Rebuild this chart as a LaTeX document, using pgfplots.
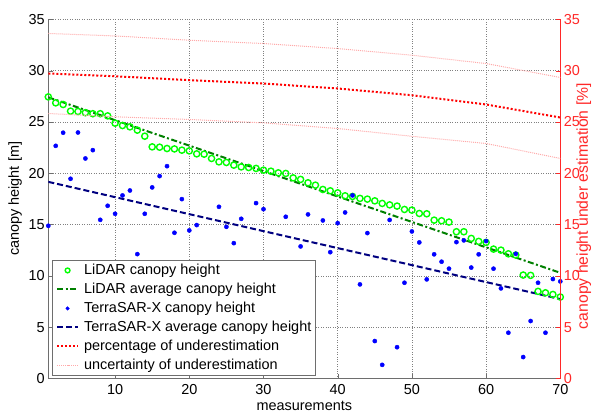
\documentclass[border=0pt]{standalone}
\usepackage{fontspec}
\setmainfont{Liberation Sans}
\usepackage{pgfplots}
\pgfplotsset{compat=1.18}

\definecolor{lidar}{RGB}{0,255,0}
\definecolor{lidaravg}{RGB}{0,128,0}
\definecolor{sar}{RGB}{0,0,255}
\definecolor{saravg}{RGB}{0,0,128}
\definecolor{uncert}{RGB}{255,170,170}
\definecolor{axred}{RGB}{255,40,40}
\definecolor{axgray}{RGB}{110,110,110}

\newcommand{\fnt}{\fontsize{14.5}{16}\selectfont}

\pgfplotsset{
  base/.style={
    scale only axis, width=512bp, height=359.2bp,
    xmin=1, xmax=70, ymin=0, ymax=35,
    ytick={0,5,...,35},
    tick align=inside,
    /pgf/number format/assume math mode=true,
    tick label style={font=\fnt},
    label style={font=\fnt},
  },
}

\begin{document}
\begin{tikzpicture}
% left axis: canopy heights
\begin{axis}[base, name=main,
  axis x line*=bottom, axis y line*=left,
  xtick={10,20,...,70},
  grid=major,
  major grid style={dotted, gray, line width=0.7bp},
  axis line style={axgray},
  tick style={axgray},
  xticklabel style={yshift=-2bp},
  xlabel={measurements},
  ylabel={canopy height [m]},
  xlabel style={at={(0.5,0)}, anchor=center, yshift=-27bp},
]
\addplot[only marks, mark=o, mark size=3.1bp, lidar, line width=1.4bp] coordinates {
  (1,27.44)(2,26.86)(3,26.70)(4,26.05)(5,26.02)(6,25.90)(7,25.80)(8,25.80)
  (9,25.59)(10,24.88)(11,24.65)(12,24.52)(13,24.20)(14,23.61)(15,22.57)
  (16,22.54)(17,22.41)(18,22.37)(19,22.25)(20,22.18)(21,21.89)(22,21.86)
  (23,21.44)(24,21.11)(25,21.05)(26,20.79)(27,20.62)(28,20.56)(29,20.47)
  (30,20.30)(31,20.20)(32,20.04)(33,19.98)(34,19.55)(35,19.40)(36,19.07)
  (37,18.84)(38,18.42)(39,18.29)(40,18.09)(41,17.80)(42,17.74)(43,17.55)
  (44,17.48)(45,17.31)(46,17.06)(47,16.92)(48,16.80)(49,16.47)(50,16.41)
  (51,16.08)(52,16.05)(53,15.43)(54,15.37)(55,15.24)(56,14.30)(57,14.30)
  (58,13.65)(59,13.36)(60,13.26)(61,12.61)(62,12.51)(63,12.15)(64,12.03)
  (65,10.08)(66,10.05)(67,8.49)(68,8.35)(69,8.19)(70,7.94)
};
\addplot[lidaravg, line width=2bp, dash pattern=on 6bp off 2.5bp on 2bp off 2.5bp]
  coordinates {(1,27.4)(70,10.3)};
\addplot[only marks, mark=*, mark size=2.1bp, sar] coordinates {
  (1,14.88)(2,22.67)(3,23.95)(4,19.46)(5,23.97)(6,21.44)(7,22.25)(8,15.46)
  (9,16.83)(10,16.05)(11,17.84)(12,18.32)(13,12.12)(14,16.05)(15,18.62)
  (16,19.72)(17,20.69)(18,14.20)(19,17.48)(20,14.43)(21,14.95)(24,16.73)
  (25,14.78)(26,13.19)(27,15.56)(29,17.09)(30,16.50)(33,15.76)(35,12.87)
  (36,15.99)(38,15.40)(39,12.31)(40,15.14)(41,16.18)(42,17.84)(43,9.17)
  (44,14.17)(45,3.65)(46,1.33)(47,15.45)(48,3.05)(49,9.33)(50,14.33)
  (51,13.26)(52,9.66)(53,12.10)(54,11.38)(55,10.70)(56,13.29)(57,13.46)
  (58,10.81)(59,12.10)(60,13.39)(61,10.70)(62,8.78)(63,4.46)(64,12.15)
  (65,2.09)(66,5.60)(67,9.33)(68,4.46)(69,9.69)(70,9.46)
};
\addplot[saravg, line width=2bp, dash pattern=on 6bp off 3bp]
  coordinates {(1,19.16)(70,7.74)};
\end{axis}

% right axis: underestimation in percent
\begin{axis}[base,
  axis x line=none, axis y line*=right,
  ylabel={canopy height under estimation [\%]},
  y axis line style={axred},
  ytick style={axred},
  yticklabel style={text=axred},
  ylabel style={text=axred, at={(1.046,0.48)}, anchor=center,
    font=\fontsize{15.8}{17}\selectfont},
  legend cell align=left,
  legend image code/.code={\draw[mark repeat=2,mark phase=2,#1]
    plot coordinates {(0bp,0bp) (10.5bp,0bp) (21bp,0bp)};},
  legend style={at={(0.008,0.008)}, anchor=south west,
    draw=axgray, fill=white, font=\fnt,
    inner xsep=3.5bp, inner ysep=3bp, row sep=5bp,
    nodes={inner sep=0pt, text height=11bp, text depth=3bp},
    /tikz/every odd column/.append style={column sep=5bp}},
]
\addlegendimage{only marks, mark=o, mark size=2.4bp, lidar, line width=1.4bp}
\addlegendentry{LiDAR canopy height}
\addlegendimage{lidaravg, line width=2bp, dash pattern=on 6bp off 2.5bp on 2bp off 2.5bp}
\addlegendentry{LiDAR average canopy height}
\addlegendimage{only marks, mark=*, mark size=1.8bp, sar}
\addlegendentry{TerraSAR-X canopy height}
\addlegendimage{saravg, line width=2bp, dash pattern=on 6bp off 3bp}
\addlegendentry{TerraSAR-X average canopy height}
\addplot[red, line width=2bp, dash pattern=on 2bp off 2bp] coordinates {
  (1,29.72)(10,29.45)(20,29.07)(30,28.74)(40,28.26)(50,27.60)(60,26.70)(70,25.43)
};
\addlegendentry{percentage of underestimation}
\addplot[uncert, line width=1bp, dash pattern=on 1bp off 1bp] coordinates {
  (1,33.62)(10,33.38)(20,32.96)(30,32.64)(40,32.15)(50,31.50)(60,30.69)(70,29.33)
};
\addlegendentry{uncertainty of underestimation}
\addplot[uncert, line width=1bp, dash pattern=on 1bp off 1bp, forget plot] coordinates {
  (1,25.82)(10,25.50)(20,25.24)(30,24.91)(40,24.36)(50,23.60)(60,22.90)(70,21.44)
};
\end{axis}
\pgfresetboundingbox
\path ([xshift=-48.3bp,yshift=-35.5bp]main.south west)
  rectangle ([xshift=34.7bp,yshift=19.3bp]main.north east);
\end{tikzpicture}
\end{document}
